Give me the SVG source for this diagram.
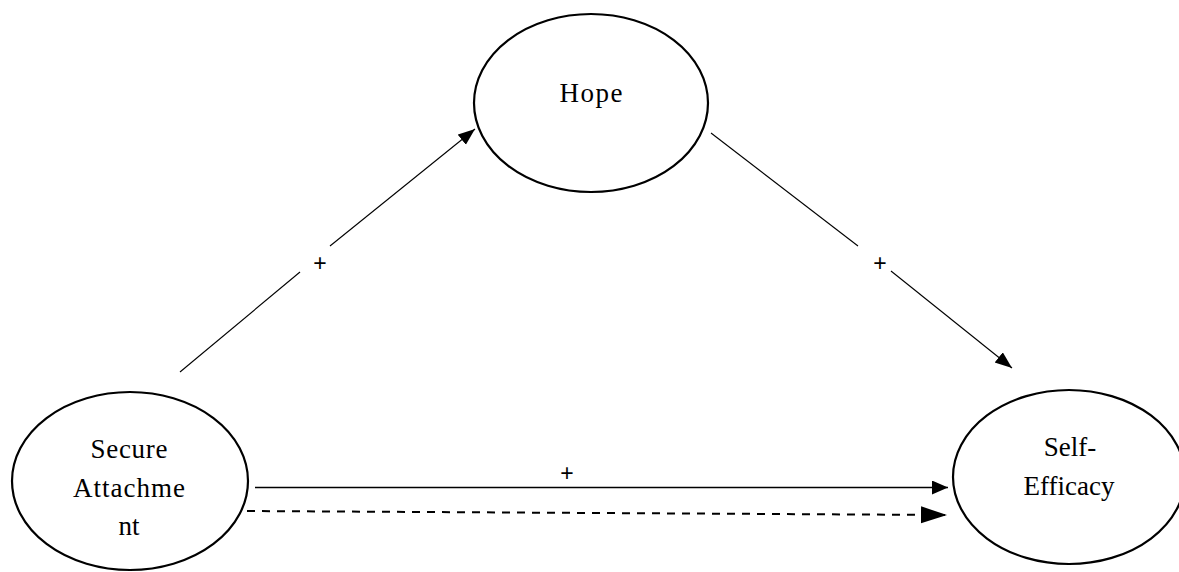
<svg xmlns="http://www.w3.org/2000/svg" width="1179" height="572" viewBox="0 0 1179 572">
  <style>
    .node { fill: #ffffff; stroke: #000000; stroke-width: 2.2; }
    .lbl { font-family: "Liberation Serif", "Times New Roman", serif; font-size: 27px; fill: #000000; text-anchor: middle; }
    .sign { font-family: "Liberation Sans", Arial, sans-serif; font-size: 23px; fill: #000000; text-anchor: middle; }
    .thin { stroke: #000000; stroke-width: 1.1; fill: none; }
    .solid { stroke: #000000; stroke-width: 1.5; fill: none; }
    .dash { stroke: #000000; stroke-width: 2; fill: none; stroke-dasharray: 8 7; }
  </style>
  <defs>
    <marker id="ahSmall" markerUnits="userSpaceOnUse" markerWidth="18" markerHeight="14" refX="17" refY="6.5" orient="auto">
      <path d="M0,0 L17,6.5 L0,13 Z" fill="#000000"/>
    </marker>
    <marker id="ahMid" markerUnits="userSpaceOnUse" markerWidth="17" markerHeight="15" refX="16" refY="7" orient="auto">
      <path d="M0,0 L16,7 L0,14 Z" fill="#000000"/>
    </marker>
    <marker id="ahBig" markerUnits="userSpaceOnUse" markerWidth="27" markerHeight="18" refX="26" refY="8.5" orient="auto">
      <path d="M0,0 L26,8.5 L0,17 Z" fill="#000000"/>
    </marker>
  </defs>

  <g id="connectors">
    <line class="thin" x1="180" y1="372" x2="300" y2="272"/>
    <line class="thin" x1="330" y1="246" x2="475" y2="129" marker-end="url(#ahSmall)"/>
    <text class="sign" x="320" y="271">+</text>

    <line class="thin" x1="711" y1="133" x2="858" y2="246"/>
    <line class="thin" x1="891" y1="271" x2="1012" y2="368" marker-end="url(#ahSmall)"/>
    <text class="sign" x="880" y="271">+</text>

    <line class="solid" x1="255" y1="487.5" x2="948" y2="487.5" marker-end="url(#ahMid)"/>
    <text class="sign" x="567" y="481">+</text>

    <line class="dash" x1="247" y1="511" x2="947" y2="515" marker-end="url(#ahBig)"/>
  </g>

  <g id="node-hope">
    <ellipse class="node" cx="591" cy="103" rx="117" ry="89"/>
    <text class="lbl" x="591" y="102" textLength="63" lengthAdjust="spacing">Hope</text>
  </g>

  <g id="node-secure-attachment">
    <ellipse class="node" cx="130" cy="481" rx="118" ry="89"/>
    <text class="lbl" x="129" y="458" textLength="77" lengthAdjust="spacing">Secure</text>
    <text class="lbl" x="129" y="497" textLength="112" lengthAdjust="spacing">Attachme</text>
    <text class="lbl" x="129" y="535">nt</text>
  </g>

  <g id="node-self-efficacy">
    <ellipse class="node" cx="1069" cy="477" rx="116" ry="87"/>
    <text class="lbl" x="1070" y="456">Self-</text>
    <text class="lbl" x="1069" y="495">Efficacy</text>
  </g>
</svg>
